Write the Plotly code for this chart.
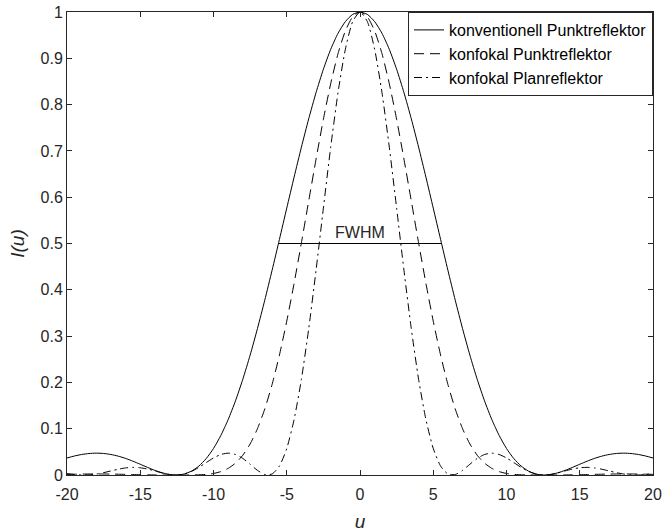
import plotly.graph_objects as go

u = [-20.0, -19.5, -19.0, -18.5, -18.0, -17.5, -17.0, -16.5, -16.0, -15.5,
     -15.0, -14.5, -14.0, -13.5, -13.0, -12.5, -12.0, -11.5, -11.0, -10.5,
     -10.0, -9.5, -9.0, -8.5, -8.0, -7.5, -7.0, -6.5, -6.0, -5.5,
     -5.0, -4.5, -4.0, -3.5, -3.0, -2.5, -2.0, -1.5, -1.0, -0.5,
     0.0, 0.5, 1.0, 1.5, 2.0, 2.5, 3.0, 3.5, 4.0, 4.5,
     5.0, 5.5, 6.0, 6.5, 7.0, 7.5, 8.0, 8.5, 9.0, 9.5,
     10.0, 10.5, 11.0, 11.5, 12.0, 12.5, 13.0, 13.5, 14.0, 14.5,
     15.0, 15.5, 16.0, 16.5, 17.0, 17.5, 18.0, 18.5, 19.0, 19.5, 20.0]

konventionell_punkt = [
    0.0368, 0.0410, 0.0443, 0.0464, 0.0472, 0.0465, 0.0443, 0.0407, 0.0358, 0.0298,
    0.0232, 0.0164, 0.0100, 0.0047, 0.0011, 0.0000, 0.0022, 0.0084, 0.0193, 0.0354,
    0.0573, 0.0853, 0.1196, 0.1601, 0.2067, 0.2589, 0.3162, 0.3776, 0.4422, 0.5089,
    0.5764, 0.6432, 0.7081, 0.7695, 0.8260, 0.8764, 0.9194, 0.9540, 0.9793, 0.9948,
    1.0000,
    0.9948, 0.9793, 0.9540, 0.9194, 0.8764, 0.8260, 0.7695, 0.7081, 0.6432, 0.5764,
    0.5089, 0.4422, 0.3776, 0.3162, 0.2589, 0.2067, 0.1601, 0.1196, 0.0853, 0.0573,
    0.0354, 0.0193, 0.0084, 0.0022, 0.0000, 0.0011, 0.0047, 0.0100, 0.0164, 0.0232,
    0.0298, 0.0358, 0.0407, 0.0443, 0.0465, 0.0472, 0.0464, 0.0443, 0.0410, 0.0368]

konfokal_punkt = [
    0.0014, 0.0017, 0.0020, 0.0022, 0.0022, 0.0022, 0.0020, 0.0017, 0.0013, 0.0009,
    0.0005, 0.0003, 0.0001, 0.0000, 0.0000, 0.0000, 0.0000, 0.0001, 0.0004, 0.0013,
    0.0033, 0.0073, 0.0143, 0.0256, 0.0427, 0.0670, 0.1000, 0.1426, 0.1956, 0.2590,
    0.3322, 0.4138, 0.5014, 0.5921, 0.6823, 0.7681, 0.8453, 0.9101, 0.9591, 0.9896,
    1.0000,
    0.9896, 0.9591, 0.9101, 0.8453, 0.7681, 0.6823, 0.5921, 0.5014, 0.4138, 0.3322,
    0.2590, 0.1956, 0.1426, 0.1000, 0.0670, 0.0427, 0.0256, 0.0143, 0.0073, 0.0033,
    0.0013, 0.0004, 0.0001, 0.0000, 0.0000, 0.0000, 0.0000, 0.0001, 0.0003, 0.0005,
    0.0009, 0.0013, 0.0017, 0.0020, 0.0022, 0.0022, 0.0022, 0.0020, 0.0017, 0.0014]

konfokal_plan = [
    0.0030, 0.0011, 0.0001, 0.0004, 0.0021, 0.0051, 0.0088, 0.0125, 0.0153, 0.0165,
    0.0156, 0.0129, 0.0088, 0.0044, 0.0011, 0.0000, 0.0022, 0.0078, 0.0165, 0.0268,
    0.0368, 0.0443, 0.0472, 0.0443, 0.0358, 0.0232, 0.0100, 0.0011, 0.0022, 0.0193,
    0.0573, 0.1196, 0.2067, 0.3162, 0.4422, 0.5764, 0.7081, 0.8260, 0.9194, 0.9793,
    1.0000,
    0.9793, 0.9194, 0.8260, 0.7081, 0.5764, 0.4422, 0.3162, 0.2067, 0.1196, 0.0573,
    0.0193, 0.0022, 0.0011, 0.0100, 0.0232, 0.0358, 0.0443, 0.0472, 0.0443, 0.0368,
    0.0268, 0.0165, 0.0078, 0.0022, 0.0000, 0.0011, 0.0044, 0.0088, 0.0129, 0.0156,
    0.0165, 0.0153, 0.0125, 0.0088, 0.0051, 0.0021, 0.0004, 0.0001, 0.0011, 0.0030]

series_names = ["konventionell Punktreflektor", "konfokal Punktreflektor", "konfokal Planreflektor"]

fwhm_u = [-5.57, 5.57]
fwhm_i = [0.5, 0.5]
fwhm_label = "FWHM"

x_ticks = [-20, -15, -10, -5, 0, 5, 10, 15, 20]
y_ticks = [0, 0.1, 0.2, 0.3, 0.4, 0.5, 0.6, 0.7, 0.8, 0.9, 1]
y_ticklabels = ["0", "0.1", "0.2", "0.3", "0.4", "0.5", "0.6", "0.7", "0.8", "0.9", "1"]

FONT = "Liberation Sans, Arial, sans-serif"
AX = "#262626"

fig = go.Figure()
styles = ["solid", "10px,6px", "8px,4px,2px,4px"]
for name, vals, dash in zip(series_names, [konventionell_punkt, konfokal_punkt, konfokal_plan], styles):
    fig.add_trace(go.Scatter(x=u, y=vals, mode="lines", name=name,
                             line=dict(color="black", width=1, dash=dash, shape="spline", smoothing=0.6)))

fig.add_trace(go.Scatter(x=fwhm_u, y=fwhm_i, mode="lines", showlegend=False,
                         line=dict(color="black", width=1)))
fig.add_annotation(x=0, y=fwhm_i[0], text=fwhm_label, showarrow=False, yanchor="bottom",
                   yshift=1, font=dict(family=FONT, size=16, color=AX))

axis_common = dict(showgrid=False, zeroline=False, showline=True, linecolor=AX, linewidth=1,
                   mirror="ticks", ticks="inside", ticklen=5, tickcolor=AX, tickwidth=1,
                   automargin=False, tickfont=dict(family=FONT, size=16, color=AX))

fig.update_xaxes(range=[-20, 20], tickvals=x_ticks, ticktext=[str(t) for t in x_ticks],
                 ticklabelstandoff=5,
                 title=dict(text="<i>u</i>", font=dict(family=FONT, size=19, color=AX), standoff=12),
                 **axis_common)
fig.update_yaxes(range=[0, 1], tickvals=y_ticks, ticktext=y_ticklabels,
                 title=dict(text="<i>I(u)</i>", font=dict(family=FONT, size=19, color=AX), standoff=10),
                 **axis_common)

fig.update_layout(
    width=664, height=532,
    margin=dict(l=67, r=11, t=12, b=57, autoexpand=False),
    paper_bgcolor="white", plot_bgcolor="white",
    font=dict(family=FONT, size=16, color=AX),
    showlegend=True,
    legend=dict(x=1, y=1, xanchor="right", yanchor="top", bgcolor="white",
                bordercolor=AX, borderwidth=1, font=dict(family=FONT, size=16, color="black"),
                itemwidth=30, tracegroupgap=0),
)

fig.write_html("out.html", config={"displayModeBar": False},
               post_script="document.body.style.margin='0px';document.body.style.overflow='hidden';")
